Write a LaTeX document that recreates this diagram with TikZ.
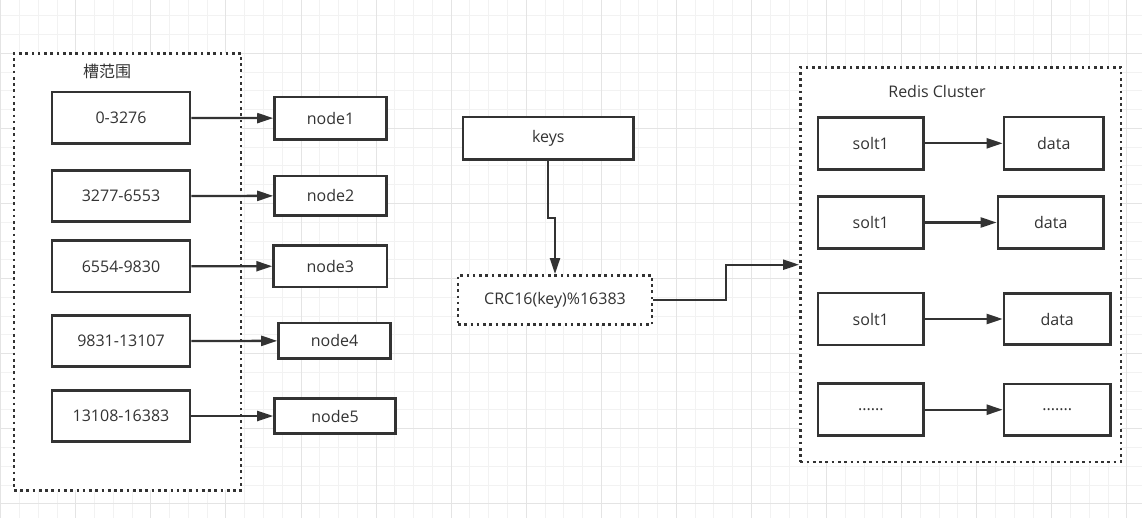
\documentclass[tikz,border=0pt]{standalone}
\usepackage{fontspec}
\setmainfont{Open Sans}
\newfontfamily\cjk{Noto Sans CJK SC}
\usepackage{tikz}
\usetikzlibrary{positioning,arrows.meta}
\definecolor{linegray}{HTML}{333333}
\definecolor{textgray}{HTML}{333333}
\definecolor{gridminor}{HTML}{F2F2F2}
\definecolor{gridmajor}{HTML}{E4E4E4}

\begin{document}
\begin{tikzpicture}[x=0.75pt, y=-0.75pt,
    box/.style={rectangle, draw=linegray, fill=white, line width=1.9pt, inner sep=0pt, text=textgray, font=\fontsize{12}{14}\selectfont},
    boxsize/.style 2 args={minimum width=#1*0.75pt, minimum height=#2*0.75pt},
    frame/.style={rectangle, draw=linegray, fill=white, line width=2pt, dash pattern=on 2pt off 2.7pt, inner sep=0pt, text=textgray, font=\fontsize{12}{14}\selectfont},
    title/.style={text=textgray, font=\fontsize{12}{14}\selectfont, inner sep=0pt},
    arrow/.style={-{Triangle[length=12pt, width=7.5pt]}, draw=linegray, line width=1.7pt},
    gridline/.style={line width=0.75pt}]

    \useasboundingbox (0,0) rectangle (1142,518);

    % background grid
    \foreach \i in {0,...,60} \draw[gridline, gridminor] ({0.7+18.77*\i},0) -- ++(0,518);
    \foreach \i in {0,...,26} \draw[gridline, gridminor] (0,{15.8+18.77*\i}) -- ++(1142,0);
    \foreach \i in {0,...,15} \draw[gridline, gridmajor] ({0.7+75.08*\i},0) -- ++(0,518);
    \foreach \i in {0,...,6} \draw[gridline, gridmajor] (0,{53.3+75.08*\i}) -- ++(1142,0);

    % slot ranges
    \node[frame, boxsize={227.3}{436.8}] (slotframe) at (127.5,271.8) {};
    \node[title] (slottitle) at (107,71.7) {\cjk 槽范围};

    \node[box, boxsize={138}{51.5}] (r1) at (121,117.7) {0-3276};
    \node[box, boxsize={138}{51.5}] (r2) at (121,196) {3277-6553};
    \node[box, boxsize={138}{51.5}] (r3) at (121,266.3) {6554-9830};
    \node[box, boxsize={138}{51.5}] (r4) at (121,341) {9831-13107};
    \node[box, boxsize={138}{51.5}] (r5) at (121,416) {13108-16383};

    \node[box, boxsize={112}{42.8}] (n1) at (330.5,118.3) {node1};
    \node[box, boxsize={112.2}{39.2}] (n2) at (330.6,195.8) {node2};
    \node[box, boxsize={113.5}{41.8}] (n3) at (330.3,266.2) {node3};
    \node[box, boxsize={112}{35.8}] (n4) at (334.5,340.8) {node4};
    \node[box, boxsize={121}{35.5}] (n5) at (335,416) {node5};

    \foreach \k in {1,...,5} \draw[arrow] (r\k) -- (n\k);

    % hashing
    \node[box, boxsize={170.8}{42.5}] (keys) at (548.3,138.2) {keys};
    \node[frame, boxsize={194}{49.3}] (crc) at (555,300) {CRC16(key)\%16383};

    % redis cluster
    \node[frame, boxsize={320.6}{394.6}] (cluster) at (960.7,264.7) {};
    \node[title] (clustertitle) at (937,91) {Redis Cluster};

    \node[box, boxsize={105.8}{52}] (s1) at (870.8,143.3) {solt1};
    \node[box, boxsize={105.8}{52}] (s2) at (870.8,222.5) {solt1};
    \node[box, boxsize={105.8}{52}] (s3) at (870.8,319) {solt1};
    \node[box, boxsize={105.8}{52}] (s4) at (870.8,409.7) {......};

    \node[box, boxsize={99.8}{52.2}] (d1) at (1053.8,143.3) {data};
    \node[box, boxsize={105.8}{52.5}] (d2) at (1050.8,222.5) {data};
    \node[box, boxsize={106.5}{51}] (d3) at (1057.2,319) {data};
    \node[box, boxsize={106.5}{51.5}] (d4) at (1057.2,409.7) {.......};

    \foreach \k in {1,...,4} \draw[arrow] (s\k) -- (d\k);

    \draw[arrow] (keys.south) -- ++(0,57) -| (crc.north);
    \draw[arrow] (crc.east) -- ++(73,0) |- (cluster.west);
\end{tikzpicture}
\end{document}
